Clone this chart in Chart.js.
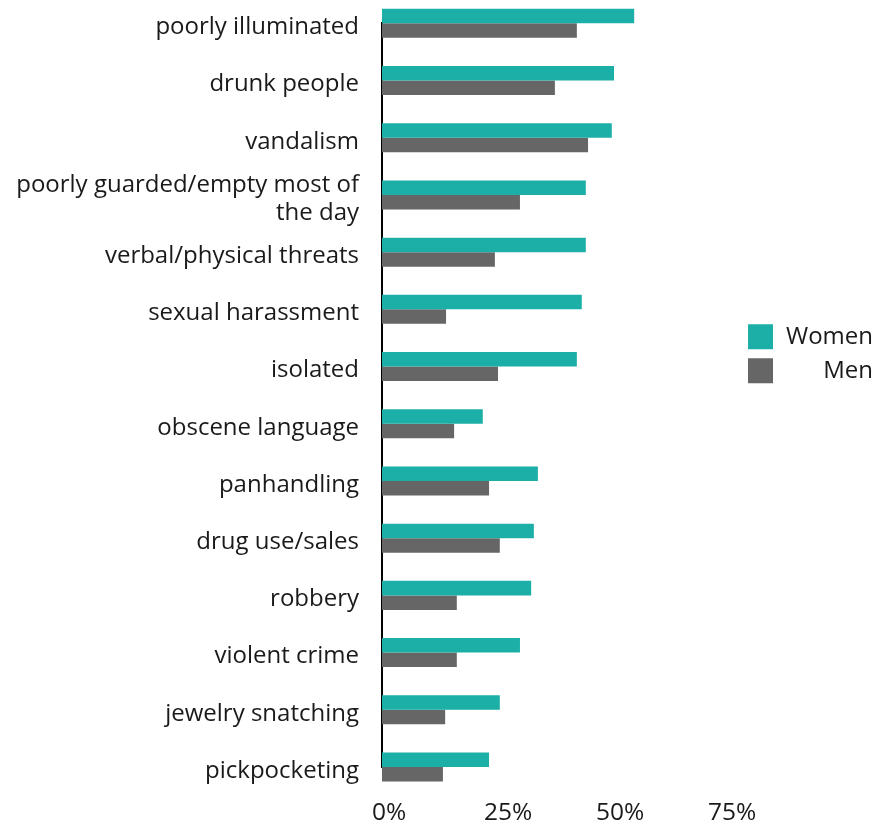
<!DOCTYPE html>
<html>
<head>
<meta charset="utf-8">
<script src="https://cdn.jsdelivr.net/npm/chart.js@4.4.1/dist/chart.umd.min.js"></script>
<style>
html, body { margin: 0; padding: 0; background: #fff; }
#wrap { width: 889px; height: 826px; position: relative; }
</style>
</head>
<body>
<div id="wrap"><canvas id="mycanvas"></canvas></div>
<script>
// reasons for feeling unsafe, share of respondents (%)
var categories = [
    'poorly illuminated',
    'drunk people',
    'vandalism',
    ['poorly guarded/empty most of', 'the day'],
    'verbal/physical threats',
    'sexual harassment',
    'isolated',
    'obscene language',
    'panhandling',
    'drug use/sales',
    'robbery',
    'violent crime',
    'jewelry snatching',
    'pickpocketing'
];
var women = [56.3, 51.8, 51.3, 45.5, 45.5, 44.6, 43.5, 22.5, 34.8, 33.9, 33.3, 30.8, 26.3, 23.9];
var men   = [43.5, 38.6, 46.0, 30.8, 25.2, 14.3, 25.9, 16.1, 23.9, 26.3, 16.7, 16.7, 14.1, 13.6];
var tickStep = 25;
var xMax = 79.7;

var fontName = '"Open Sans", sans-serif';
var textColor = '#1a1a1a';

var chartdata = {
    labels: categories,
    datasets: [
        {
            label: 'Women',
            data: women,
            backgroundColor: '#1cafa7',
            clip: false
        },
        {
            label: 'Men',
            data: men,
            backgroundColor: '#666666',
            clip: false
        }
    ]
};

var ctx = document.getElementById('mycanvas');
var myBarChart = new Chart(ctx, {
    type: 'bar',
    data: chartdata,
    options: {
        indexAxis: 'y',
        responsive: true,
        maintainAspectRatio: false,
        animation: false,
        layout: {
            padding: { top: 23.3, right: 16, bottom: 0, left: 0 }
        },
        datasets: {
            bar: {
                categoryPercentage: 0.507,
                barPercentage: 1
            }
        },
        scales: {
            y: {
                offset: false,
                grid: { display: false },
                border: { display: true, color: '#000', width: 2 },
                ticks: {
                    autoSkip: false,
                    color: textColor,
                    padding: 15,
                    labelOffset: 4,
                    font: { family: fontName, size: 24, lineHeight: 1.15 }
                },
                afterFit: function (scale) {
                    scale.width = 382;
                    scale.paddingTop = 0;
                    scale.paddingBottom = 0;
                }
            },
            x: {
                min: 0,
                max: xMax,
                grid: { display: false },
                border: { display: false },
                ticks: {
                    stepSize: tickStep,
                    includeBounds: false,
                    align: 'start',
                    labelOffset: -10,
                    padding: 23,
                    color: textColor,
                    font: { family: fontName, size: 24.5 },
                    callback: function (v) { return v + '%'; }
                },
                afterFit: function (scale) {
                    scale.height = 59;
                }
            }
        },
        plugins: {
            tooltip: { enabled: false },
            legend: {
                position: 'right',
                align: 'start',
                maxWidth: 134,
                title: {
                    display: true,
                    text: '',
                    font: { size: 10, lineHeight: 1 },
                    padding: { top: 282, bottom: 0 }
                },
                labels: {
                    boxWidth: 25,
                    boxHeight: 25,
                    padding: 9,
                    textAlign: 'right',
                    color: textColor,
                    font: { family: fontName, size: 24 }
                }
            }
        }
    }
});
</script>
</body>
</html>
